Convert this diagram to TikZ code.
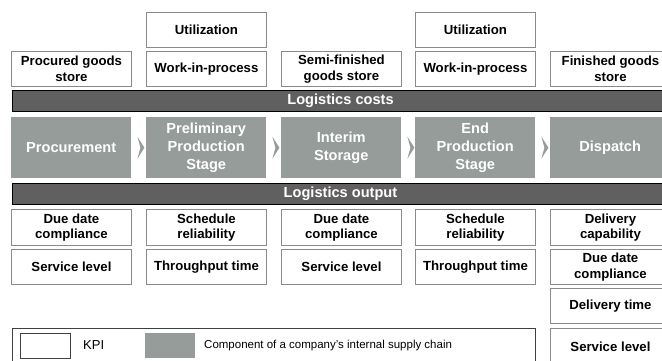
\documentclass[tikz,border=0pt]{standalone}
\usepackage{fontspec}
\setmainfont{Liberation Sans}
\definecolor{stage}{HTML}{969C99}
\definecolor{band}{HTML}{606060}
\definecolor{frame}{HTML}{8A8A8A}
\definecolor{legendframe}{HTML}{404040}
\tikzset{
  kpi/.style={draw=frame, line width=0.9bp, fill=white, minimum width=120bp,
    minimum height=35bp, anchor=north west, align=center, inner sep=0pt,
    font=\fontsize{13.2bp}{15.6bp}\selectfont\bfseries},
  stagebox/.style={fill=stage, minimum width=120bp, minimum height=61bp,
    anchor=north west, align=center, inner sep=0pt, text=white,
    font=\fontsize{14.6bp}{18bp}\selectfont\bfseries},
  bandbar/.style={draw=black, line width=1bp, fill=band, text=white,
    minimum width=656bp, minimum height=21bp, anchor=north west, inner sep=0pt,
    font=\fontsize{14.6bp}{16bp}\selectfont\bfseries},
  legendtext/.style={anchor=west, inner sep=0pt, font=\fontsize{11.5bp}{13bp}\selectfont},
  swatch/.style={minimum width=50bp, minimum height=25bp, anchor=north west, inner sep=0pt},
}
\begin{document}
\begin{tikzpicture}[x=1bp,y=-1bp]
\useasboundingbox (0,0) rectangle (662,360);
\begin{scope}
\clip (0,0) rectangle (662,360);

% utilization indicators above the production stages
\node[kpi] (util1) at (146,12) {Utilization};
\node[kpi] (util2) at (415,12) {Utilization};

% stores and work-in-process
\node[kpi] (store1) at (11,51) {Procured goods\\store};
\node[kpi] (wip1) at (146,51) {Work-in-process};
\node[kpi] (store2) at (281,51) {Semi-finished\\goods store};
\node[kpi] (wip2) at (415,51) {Work-in-process};
\node[kpi] (store3) at (550,51) {Finished goods\\store};

% cost band
\node[bandbar] (costs) at (12,90) {Logistics costs};

% internal supply chain stages
\node[stagebox] (proc) at (11,117) {Procurement};
\node[stagebox] (prelim) at (146,117) {Preliminary\\Production\\Stage};
\node[stagebox] (interim) at (281,117) {Interim\\Storage};
\node[stagebox] (endprod) at (415,117) {End\\Production\\Stage};
\node[stagebox] (dispatch) at (550,117) {Dispatch};

% chevrons between the stages
\foreach \s in {proc,prelim,interim,endprod}{
  \fill[stage] ([xshift=6bp,yshift=11bp]\s.east) -- ([xshift=13bp]\s.east)
    -- ([xshift=6bp,yshift=-11bp]\s.east) -- ([xshift=9bp]\s.east) -- cycle;
}

% output band
\node[bandbar] (output) at (12,183) {Logistics output};

% output indicators
\node[kpi, minimum height=36bp] (due1) at (11,209) {Due date\\compliance};
\node[kpi, minimum height=36bp] (sched1) at (146,209) {Schedule\\reliability};
\node[kpi, minimum height=36bp] (due2) at (281,209) {Due date\\compliance};
\node[kpi, minimum height=36bp] (sched2) at (415,209) {Schedule\\reliability};
\node[kpi, minimum height=36bp] (delcap) at (550,209) {Delivery\\capability};

\node[kpi] (serv1) at (11,249) {Service level};
\node[kpi] (tput1) at (146,249) {Throughput time};
\node[kpi] (serv2) at (281,249) {Service level};
\node[kpi] (tput2) at (415,249) {Throughput time};
\node[kpi] (due3) at (550,249) {Due date\\compliance};

\node[kpi] (deltime) at (550,288) {Delivery time};
\node[kpi, minimum height=36bp] (serv3) at (550,328) {Service level};

% legend
\node[draw=legendframe, line width=0.9bp, minimum width=523bp, minimum height=36bp,
  anchor=north west, inner sep=0pt] (legend) at (12,328) {};
\node[swatch, draw=legendframe, line width=0.8bp, fill=white] (kpikey) at (20,333) {};
\node[legendtext, font=\fontsize{13bp}{14bp}\selectfont] (kpilabel) at (83,345.5) {KPI};
\node[swatch, fill=stage] (stagekey) at (145,333) {};
\node[legendtext] (stagelabel) at (204,345.5) {Component of a company’s internal supply chain};
\end{scope}
\end{tikzpicture}
\end{document}
